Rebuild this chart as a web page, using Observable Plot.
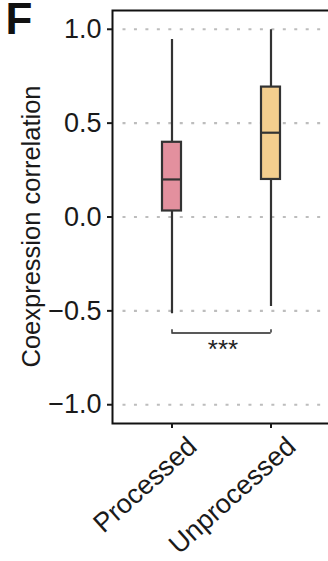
<!DOCTYPE html>
<html><head><meta charset="utf-8">
<script src="https://cdn.jsdelivr.net/npm/d3@7"></script>
<script src="https://cdn.jsdelivr.net/npm/@observablehq/plot@0.6"></script>
<style>html,body{margin:0;padding:0;background:#fff}#chart{width:328px;height:561px;overflow:hidden}</style>
</head><body><div id="chart"></div>
<script>
// ---- data ----
const categories = ["Processed", "Unprocessed"];
const whiskerLow = [-0.515, -0.477];
const q1 = [0.032, 0.200];
const median = [0.200, 0.449];
const q3 = [0.398, 0.692];
const whiskerHigh = [0.946, 0.997];
const boxColors = ["#E3909E", "#F4CE8E"];
const yTicks = [-1, -0.5, 0, 0.5, 1];
const yDomain = [-1.1, 1.1];
const yTitle = "Coexpression correlation";
const panelLabel = "F";
const signifLabel = "***";
const signifY = -0.618;
const signifTickTop = -0.601;

const rows = categories.map((c, i) => ({cat: c, lo: whiskerLow[i], q1: q1[i], med: median[i], q3: q3[i], hi: whiskerHigh[i]}));
const bracket = [{x1: categories[0], x2: categories[1], y: signifY}];
const font = "'Liberation Sans', Arial, Helvetica, sans-serif";
const ink = "#333";

const plot = Plot.plot({
  width: 328,
  height: 561,
  marginTop: 10,
  marginBottom: 138,
  marginLeft: 112,
  marginRight: -2,
  style: {fontFamily: font, background: "#fff", color: "#1a1a1a"},
  x: {type: "band", domain: categories, paddingInner: 0.811, paddingOuter: 0.5065, axis: null},
  y: {domain: yDomain, axis: null},
  color: {domain: categories, range: boxColors},
  marks: [
    Plot.ruleY(yTicks, {stroke: "#bdbdbd", strokeWidth: 2.2, strokeDasharray: "3 8.45", insetLeft: 10.5}),
    Plot.frame({stroke: "#111", strokeWidth: 2}),
    Plot.axisY({ticks: yTicks, label: null, tickSize: 5, tickPadding: 6, tickFormat: d3.format(".1f"), fontSize: 27, strokeWidth: 2}),
    Plot.axisX({label: null, tickSize: 5, strokeWidth: 2, tickFormat: () => ""}),
    Plot.ruleX(rows, {x: "cat", y1: "lo", y2: "hi", stroke: ink, strokeWidth: 2.2}),
    Plot.barY(rows, {x: "cat", y1: "q1", y2: "q3", fill: "cat", stroke: ink, strokeWidth: 2.2}),
    Plot.tickY(rows, {x: "cat", y: "med", stroke: ink, strokeWidth: 2.2}),
    Plot.ruleY(bracket, {x1: "x1", x2: "x2", y: "y", stroke: "#222", strokeWidth: 1.4, insetLeft: 9.35, insetRight: 9.35}),
    Plot.ruleX(categories, {x: d => d, y1: signifY, y2: signifTickTop, stroke: "#222", strokeWidth: 1.4}),
    Plot.text([signifLabel], {y: [signifY], text: d => d, dx: 1.5, dy: 17, fontSize: 26, fill: "#222"}),
    Plot.text(categories, {x: d => d, text: d => d, frameAnchor: "bottom", rotate: -42, textAnchor: "end", lineAnchor: "top", dx: 13.5, dy: 11, fontSize: 27}),
    Plot.text([yTitle], {text: d => d, frameAnchor: "left", textAnchor: "middle", rotate: -90, dx: -81, dy: 9.5, fontSize: 25.5}),
    Plot.text([panelLabel], {text: d => d, frameAnchor: "top-left", textAnchor: "start", lineAnchor: "bottom", dx: -107, dy: 23, fontSize: 44, fontWeight: "bold", fill: "#111"})
  ]
});
document.getElementById("chart").appendChild(plot);
</script>
</body></html>
